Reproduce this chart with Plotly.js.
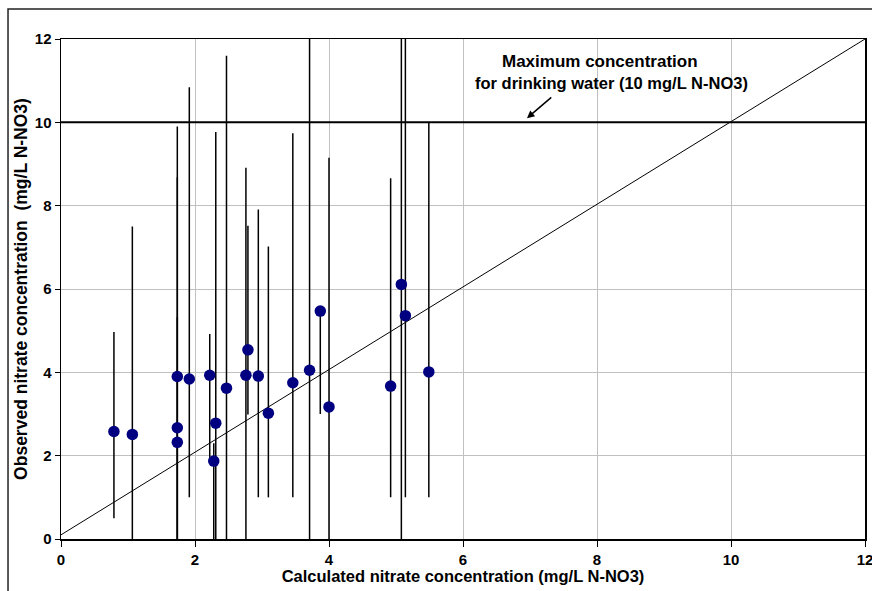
<!DOCTYPE html>
<html>
<head>
<meta charset="utf-8">
<script src="https://cdn.plot.ly/plotly-3.0.1.min.js"></script>
<style>
html,body{margin:0;padding:0;background:#fff;}
#chart{width:872px;height:591px;}
</style>
</head>
<body>
<div id="chart"></div>
<script>
// Calculated (x) and observed (y) nitrate concentrations, mg/L N-NO3
var calcX   = [0.79, 1.065, 1.736, 1.736, 1.736, 1.915, 2.22, 2.28, 2.31, 2.47, 2.76, 2.79, 2.945, 3.095, 3.46, 3.71, 3.87, 4.00, 4.92, 5.08, 5.14, 5.49];
var obsY    = [2.58, 2.51, 3.90, 2.67, 2.32, 3.84, 3.93, 1.87, 2.78, 3.62, 3.93, 4.54, 3.91, 3.02, 3.75, 4.05, 5.47, 3.17, 3.67, 6.11, 5.36, 4.01];
// observed range (error bar ends)
var obsHigh = [4.97, 7.50, 9.90, 8.68, 5.32, 10.84, 4.92, 2.30, 9.77, 11.60, 8.91, 7.52, 7.91, 7.02, 9.74, 12.05, 5.47, 9.15, 8.66, 12.12, 12.12, 10.00];
var obsLow  = [0.50, 0.00, 0.00, 0.00, 0.00, 1.00, 1.95, 0.00, 0.00, 0.00, 0.00, 2.99, 1.00, 1.00, 1.00, 0.00, 3.00, 0.00, 1.00, 0.00, 1.00, 1.00];
// 1:1 line and drinking water limit
var oneToOneX = [0, 12];
var oneToOneY = [0.1, 12];
var limitX = [0, 12];
var limitY = [10, 10];
var tickVals = [0, 2, 4, 6, 8, 10, 12];
var tickLabels = ['0', '2', '4', '6', '8', '10', '12'];

var plus = obsHigh.map(function(h, i){ return Math.max(0, h - obsY[i]); });
var minus = obsLow.map(function(l, i){ return Math.max(0, obsY[i] - l); });
var boldTicks = tickLabels.map(function(t){ return '<b>' + t + '</b>'; });

var traces = [
  {x: oneToOneX, y: oneToOneY, mode: 'lines', line: {color: '#000', width: 1}, hoverinfo: 'skip', showlegend: false},
  {x: limitX, y: limitY, mode: 'lines', line: {color: '#000', width: 2}, hoverinfo: 'skip', showlegend: false},
  {x: calcX, y: obsY, mode: 'markers', type: 'scatter', cliponaxis: false, showlegend: false,
   marker: {color: '#000080', size: 11.5},
   error_y: {type: 'data', symmetric: false, array: plus, arrayminus: minus, color: '#000', thickness: 1.5, width: 0}}
];

var fontFam = '"Liberation Sans", Arial, sans-serif';
var layout = {
  width: 872, height: 591,
  margin: {l: 61, r: 7, t: 39, b: 52},
  paper_bgcolor: '#fff', plot_bgcolor: '#fff',
  font: {family: fontFam, color: '#000'},
  showlegend: false,
  xaxis: {
    range: [0, 12], tickvals: tickVals, ticktext: boldTicks,
    showgrid: true, gridcolor: '#c0c0c0', gridwidth: 1, zeroline: false,
    showline: true, linecolor: '#000', linewidth: 1.5, mirror: true,
    ticks: 'outside', ticklen: 6, tickcolor: '#000', ticklabeloverflow: 'allow',
    tickfont: {family: fontFam, size: 15, weight: 700},
    title: {text: 'Calculated nitrate concentration (mg/L N-NO3)', font: {family: fontFam, size: 16.5, weight: 700}, standoff: 3}
  },
  yaxis: {
    range: [0, 12], tickvals: tickVals, ticktext: boldTicks,
    showgrid: true, gridcolor: '#c0c0c0', gridwidth: 1, zeroline: false,
    showline: true, linecolor: '#000', linewidth: 1.5, mirror: true,
    ticks: 'outside', ticklen: 5, tickcolor: '#000',
    tickfont: {family: fontFam, size: 15, weight: 700},
    title: {text: 'Observed nitrate concentration  (mg/L N-NO3)', font: {family: fontFam, size: 17.5, weight: 700}, standoff: 2}
  },
  shapes: [
    {type: 'rect', xref: 'paper', yref: 'paper', x0: -0.0659, x1: 1.1, y0: -0.2, y1: 1.06,
     line: {color: '#222', width: 1.5}, fillcolor: 'rgba(0,0,0,0)', layer: 'below'}
  ],
  annotations: [
    {x: 8.04, y: 11.45, xref: 'x', yref: 'y', text: 'Maximum concentration', showarrow: false,
     font: {family: fontFam, size: 17, weight: 700}},
    {x: 8.22, y: 10.94, xref: 'x', yref: 'y', text: 'for drinking water (10 mg/L N-NO3)', showarrow: false,
     font: {family: fontFam, size: 16.5, weight: 700}},
    {x: 6.955, y: 10.10, xref: 'x', yref: 'y', ax: 7.34, ay: 10.63, axref: 'x', ayref: 'y', text: '',
     showarrow: true, arrowhead: 2, arrowsize: 1, arrowwidth: 1.5, arrowcolor: '#000'}
  ]
};

Plotly.newPlot('chart', traces, layout, {displayModeBar: false, staticPlot: true});
</script>
</body>
</html>
